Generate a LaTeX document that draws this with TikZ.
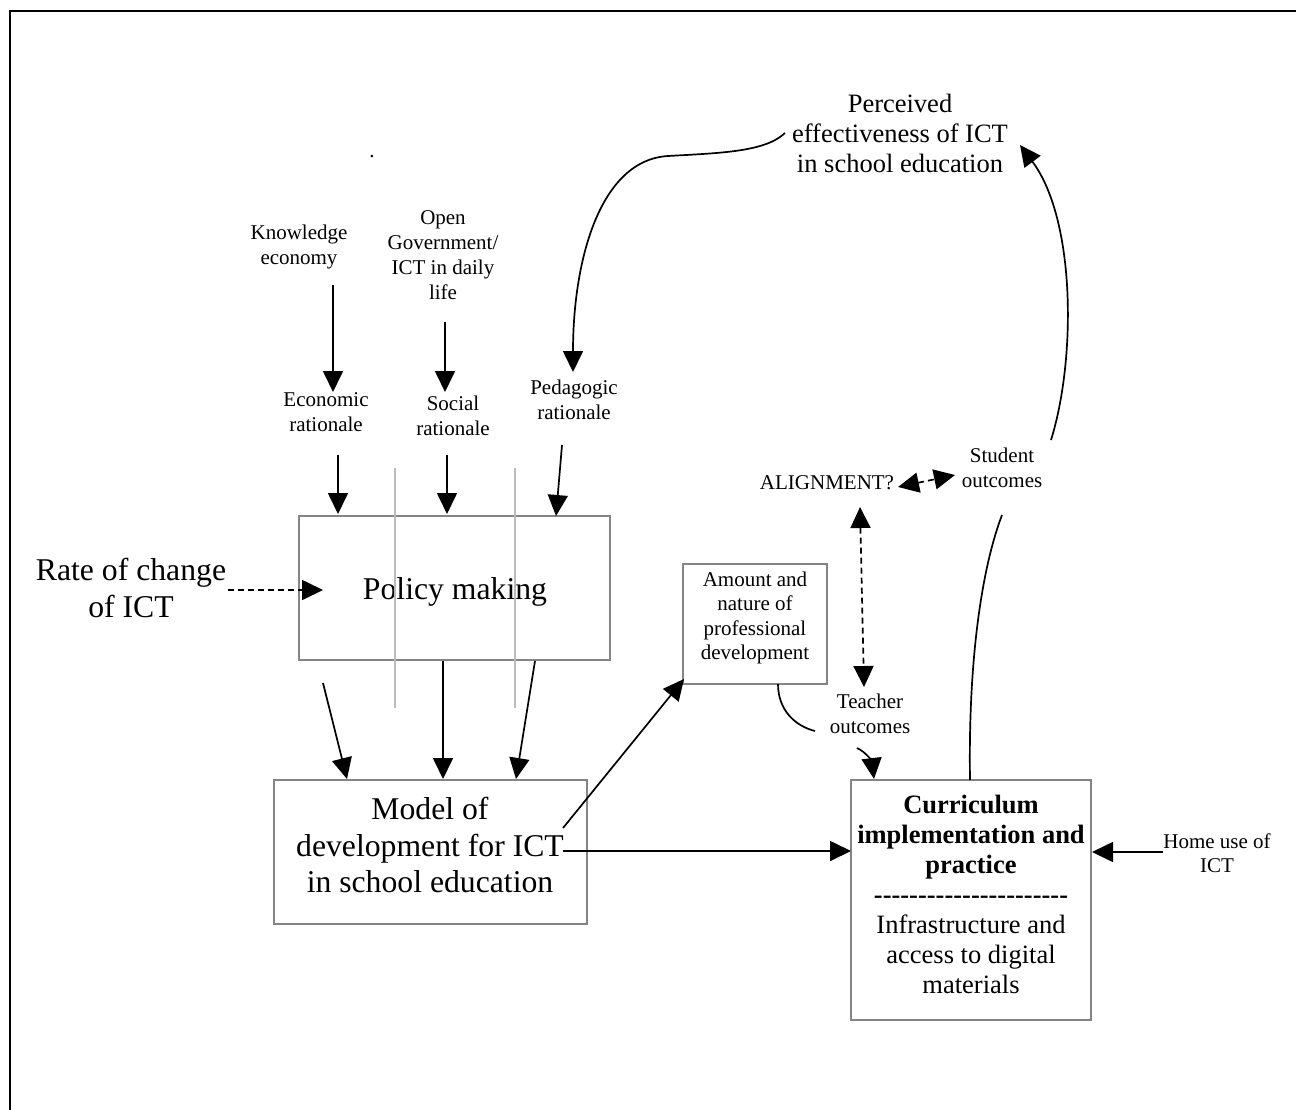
\documentclass[tikz,border=0pt]{standalone}
\usepackage{fontspec}
\setmainfont{Liberation Serif}
\usetikzlibrary{arrows.meta}
\newcommand\dashrow{-{}-{}-{}-{}-{}-{}-{}-{}-{}-{}-{}-{}-{}-{}-{}-{}-{}-{}-{}-{}-{}-{}}
\begin{document}
\begin{tikzpicture}[x=1pt,y=-1pt,
  tip/.tip={Triangle[length=21pt,width=20pt]},
  arr/.style={line width=1.7pt,-tip},
  darr/.style={line width=1.7pt,dash pattern=on 6pt off 4pt,-tip},
  ddarr/.style={line width=1.7pt,dash pattern=on 6pt off 4pt,tip-tip},
  plain/.style={line width=1.7pt},
  box/.style={draw=black!48,line width=2pt,inner sep=0pt},
  guide/.style={draw=black!27,line width=1.5pt},
  lbl/.style={align=center,inner sep=0pt,font=\fontsize{21}{25}\selectfont},
  mid/.style={align=center,inner sep=0pt,font=\fontsize{26.5}{30}\selectfont},
  big/.style={align=center,inner sep=0pt,font=\fontsize{31.7}{36.5}\selectfont}]
\useasboundingbox (0,0) rectangle (1296,1109);

% outer frame
\draw[line width=2.3pt] (10,1120) -- (10,11) -- (1310,11);
\node[inner sep=0pt,font=\fontsize{21}{25}\selectfont] (dot) at (372,157) {.};

% rationale labels
\node[lbl] (know) at (299,247) {Knowledge\\economy};
\node[lbl] (open) at (443,255) {Open\\Government/\\ICT in daily\\life};
\node[lbl] (econ) at (326,412) {Economic\\rationale};
\node[lbl] (soc) at (453,416) {Social\\rationale};
\node[lbl] (ped) at (574,400) {Pedagogic\\rationale};
\node[mid] (perc) at (900,133) {Perceived\\effectiveness of ICT\\in school education};

% main boxes
\node[box,minimum width=311,minimum height=144] (policy) at (454.5,588) {};
\node[big] (policyt) at (455,592) {Policy making};
\node[big] (rate) at (131,588) {Rate of change\\of ICT};
\node[box,minimum width=313,minimum height=144] (model) at (430.5,852) {};
\node[big] (modelt) at (430,845) {Model of\\development for ICT\\in school education};
\node[box,minimum width=144,minimum height=120] (amt) at (755,624) {};
\node[lbl,font=\fontsize{21}{24.4}\selectfont] (amtt) at (755,618) {Amount and\\nature of\\professional\\development};
\node[box,minimum width=240,minimum height=240] (curr) at (971,900) {};
\node[mid] (currt) at (971,894) {\bfseries Curriculum\\\bfseries implementation and\\\bfseries practice\\\bfseries\dashrow\\Infrastructure and\\access to digital\\materials};

% outcome labels
\node[lbl] (align) at (827,483) {ALIGNMENT?};
\node[lbl] (stud) at (1002,468) {Student\\outcomes};
\node[lbl] (teach) at (870,714) {Teacher\\outcomes};
\node[lbl,font=\fontsize{21}{24}\selectfont] (home) at (1217,853) {Home use of\\ICT};

% light guide lines through the policy box
\draw[guide] (395,468) -- (395,708);
\draw[guide] (515,468) -- (515,708);

% connector end points
\coordinate (k1) at (333,285);  \coordinate (k2) at (333,392);
\coordinate (o1) at (445,322);  \coordinate (o2) at (445,392);
\coordinate (e1) at (338,455);  \coordinate (e2) at (338,514);
\coordinate (s1) at (447,455);  \coordinate (s2) at (447,514);
\coordinate (p1) at (562,445);  \coordinate (p2) at (556,516);
\coordinate (r1) at (228,590);  \coordinate (r2) at (323,590);
\coordinate (m1) at (323,683);  \coordinate (m2) at (347,779);
\coordinate (m3) at (443,661);  \coordinate (m4) at (443,779);
\coordinate (m5) at (535,661);  \coordinate (m6) at (516,779);
\coordinate (d1) at (563,828);  \coordinate (d2) at (684,679);
\coordinate (d3) at (563,851);  \coordinate (d4) at (851,851);
\coordinate (h1) at (1163,852); \coordinate (h2) at (1092,852);
\coordinate (a1) at (898,487);  \coordinate (a2) at (955,475);
\coordinate (a3) at (860,507);  \coordinate (a4) at (864,687);
\coordinate (t0) at (778,684);  \coordinate (t1) at (815,731);
\coordinate (t2) at (857,748);  \coordinate (t3) at (874,779);
\coordinate (c0) at (970,780);  \coordinate (c1) at (1002,515);
\coordinate (u0) at (1051,440); \coordinate (u1) at (1020,145);
\coordinate (f0) at (785,133);  \coordinate (f1) at (668,156);
\coordinate (f2) at (573,372);

% drivers into the rationales
\draw[arr] (k1) -- (k2);
\draw[arr] (o1) -- (o2);
\draw[arr] (f0) .. controls (765,152) and (720,153) .. (f1)
                .. controls (600,160) and (573,260) .. (f2);

% rationales into policy making
\draw[arr] (e1) -- (e2);
\draw[arr] (s1) -- (s2);
\draw[arr] (p1) -- (p2);
\draw[darr] (r1) -- (r2);

% policy making into the development model
\draw[arr] (m1) -- (m2);
\draw[arr] (m3) -- (m4);
\draw[arr] (m5) -- (m6);

% from the model outwards
\draw[arr] (d1) -- (d2);
\draw[arr] (d3) -- (d4);
\draw[arr] (h1) -- (h2);

% outcomes
\draw[ddarr] (a1) -- (a2);
\draw[ddarr] (a3) -- (a4);
\draw[plain] (t0) .. controls (778,710) and (795,726) .. (t1);
\draw[arr] (t2) .. controls (866,752) and (872,762) .. (t3);
\draw[plain] (c0) .. controls (968,650) and (984,562) .. (c1);
\draw[arr] (u0) .. controls (1076,360) and (1076,220) .. (u1);
\end{tikzpicture}
\end{document}
